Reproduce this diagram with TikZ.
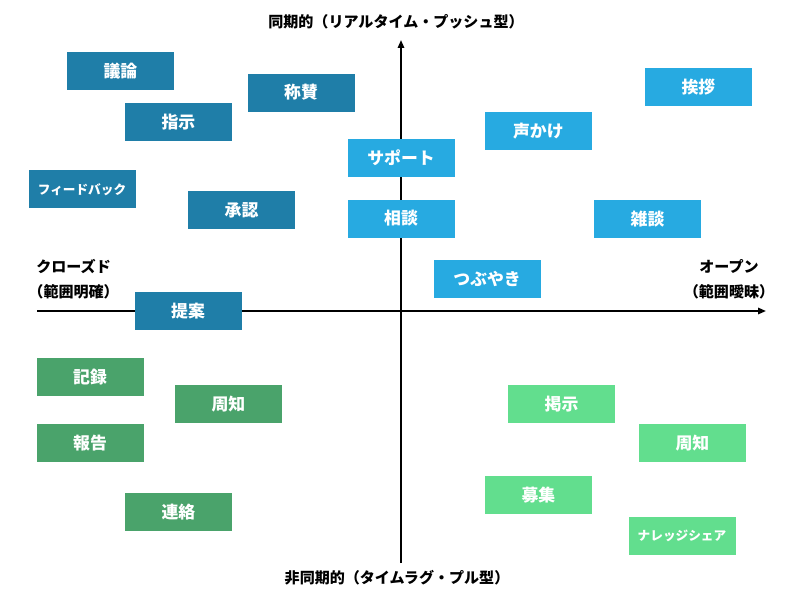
\documentclass[tikz,border=0pt]{standalone}
\usepackage{fontspec}
\setmainfont{Noto Sans CJK JP}
\usepackage{tikz}
\usetikzlibrary{arrows.meta}
\definecolor{syncclosed}{RGB}{31, 126, 168}
\definecolor{syncopen}{RGB}{39, 170, 225}
\definecolor{asyncclosed}{RGB}{74, 163, 107}
\definecolor{asyncopen}{RGB}{98, 222, 142}

\begin{document}
\begin{tikzpicture}[
    >={Triangle[length=2mm, width=1.6mm]},
    item/.style={minimum width=2.675cm, minimum height=0.95cm, inner sep=0pt,
        text=white, font=\bfseries\fontsize{12}{14}\selectfont},
    small item/.style={item, font=\bfseries\fontsize{9}{11}\selectfont},
    axis label/.style={font=\bfseries\fontsize{10.7}{17.7}\selectfont, align=center}
]
\useasboundingbox (0,0) rectangle (20,15.025);

% Axes
\coordinate (xstart) at (0.925,7.25);
\coordinate (xend) at (19.15,7.25);
\coordinate (ystart) at (10.025,0.95);
\coordinate (yend) at (10.025,14.025);
\draw[->, line width=1.3pt] (xstart) -- (xend);
\draw[->, line width=1.3pt] (ystart) -- (yend);

% Axis labels
\node[axis label] (synclbl) at (9.9,14.475) {同期的（リアルタイム・プッシュ型）};
\node[axis label] (asynclbl) at (9.925,0.575) {非同期的（タイムラグ・プル型）};
\node[axis label] (closedlbl) at (1.84,8.04) {クローズド\\（範囲明確）};
\node[axis label] (openlbl) at (18.225,8.04) {オープン\\（範囲曖昧）};

% Synchronous, closed
\node[item, fill=syncclosed] (giron) at (3.01,13.25) {議論};
\node[item, fill=syncclosed] (shousan) at (7.525,12.71) {称賛};
\node[item, fill=syncclosed] (shiji) at (4.46,11.975) {指示};
\node[small item, fill=syncclosed] (feedback) at (2.05,10.29) {フィードバック};
\node[item, fill=syncclosed] (shounin) at (6.04,9.775) {承認};
\node[item, fill=syncclosed] (teian) at (4.7,7.25) {提案};

% Synchronous, open
\node[item, fill=syncopen] (support) at (10.025,11.075) {サポート};
\node[item, fill=syncopen] (soudan) at (10.025,9.56) {相談};
\node[item, fill=syncopen] (aisatsu) at (17.46,12.86) {挨拶};
\node[item, fill=syncopen] (koekake) at (13.46,11.74) {声かけ};
\node[item, fill=syncopen] (zatsudan) at (16.19,9.56) {雑談};
\node[item, fill=syncopen] (tsubuyaki) at (12.175,8.05) {つぶやき};

% Asynchronous, closed
\node[item, fill=asyncclosed] (kiroku) at (2.25,5.59) {記録};
\node[item, fill=asyncclosed] (shuchiL) at (5.71,4.925) {周知};
\node[item, fill=asyncclosed] (houkoku) at (2.25,3.95) {報告};
\node[item, fill=asyncclosed] (renraku) at (4.46,2.225) {連絡};

% Asynchronous, open
\node[item, fill=asyncopen] (keiji) at (14.04,4.925) {掲示};
\node[item, fill=asyncopen] (shuchiR) at (17.31,3.95) {周知};
\node[item, fill=asyncopen] (boshu) at (13.46,2.65) {募集};
\node[small item, fill=asyncopen] (knowledge) at (17.05,1.625) {ナレッジシェア};

\end{tikzpicture}
\end{document}
